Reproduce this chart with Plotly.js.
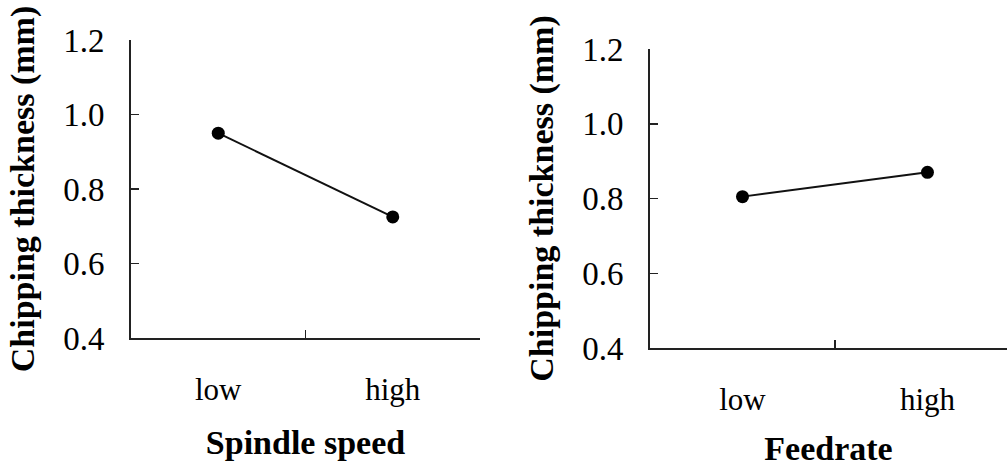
<!DOCTYPE html>
<html>
<head>
<meta charset="utf-8">
<script src="https://cdn.plot.ly/plotly-3.0.1.min.js"></script>
<style>html,body{margin:0;padding:0;background:#fff;}#chart{width:1007px;height:470px;}</style>
</head>
<body>
<div id="chart"></div>
<script>
const levels = ["low", "high"];
const levelPos = [0, 1];
const spindleThickness = [0.95, 0.725];
const feedrateThickness = [0.805, 0.87];
const yTickVals = [0.4, 0.6, 0.8, 1.0, 1.2];
const yTickText = ["0.4", "0.6", "0.8", "1.0", "1.2"];
const yTitle = "Chipping thickness (mm)";
const xTitles = ["Spindle speed", "Feedrate"];

const serif = "Liberation Serif, Times New Roman, serif";
const lineStyle = {color: "#111", width: 2};
const markerStyle = {color: "#000", size: 13, symbol: "circle"};

const traces = [
  {x: levelPos, y: spindleThickness, xaxis: "x", yaxis: "y", mode: "lines+markers",
   line: lineStyle, marker: markerStyle, showlegend: false, hoverinfo: "skip"},
  {x: levelPos, y: feedrateThickness, xaxis: "x2", yaxis: "y2", mode: "lines+markers",
   line: lineStyle, marker: markerStyle, showlegend: false, hoverinfo: "skip"}
];

function xAxis(domain, range, anchor, title, standoff) {
  return {
    domain: domain, range: range, anchor: anchor, type: "linear",
    showline: true, linecolor: "#222", linewidth: 2, showgrid: false, zeroline: false,
    tickvals: levelPos, ticktext: levels, ticks: "", ticklabelstandoff: 23,
    tickfont: {family: serif, size: 31, color: "#000"},
    minor: {tickvals: [0.5], ticks: "inside", ticklen: 8, tickwidth: 1.5, tickcolor: "#222", showgrid: false},
    title: {text: title, font: {family: serif, size: 34, color: "#000", weight: "bold"}, standoff: standoff},
    fixedrange: true
  };
}
function yAxis(domain, anchor) {
  return {
    domain: domain, range: [0.4, 1.2], anchor: anchor,
    showline: true, linecolor: "#222", linewidth: 2, showgrid: false, zeroline: false,
    tickvals: yTickVals, ticktext: yTickText, ticks: "inside", ticklen: 8, tickwidth: 1.5, tickcolor: "#222",
    ticklabelstandoff: 18,
    tickfont: {family: serif, size: 33, color: "#000"},
    title: {text: yTitle, font: {family: serif, size: 34, color: "#000", weight: "bold"}, standoff: 18},
    fixedrange: true
  };
}

const layout = {
  width: 1007, height: 470,
  margin: {l: 0, r: 0, t: 0, b: 0},
  paper_bgcolor: "#fff", plot_bgcolor: "#fff",
  showlegend: false,
  xaxis: xAxis([131/1007, 480/1007], [-0.5, 1.5], "y", xTitles[0], 24),
  yaxis: yAxis([132/470, 430/470], "x"),
  xaxis2: xAxis([650/1007, 1], [-0.5, 1.43], "y2", xTitles[1], 20),
  yaxis2: yAxis([122/470, 421/470], "x2")
};

Plotly.newPlot("chart", traces, layout, {staticPlot: true, displayModeBar: false});
</script>
</body>
</html>
